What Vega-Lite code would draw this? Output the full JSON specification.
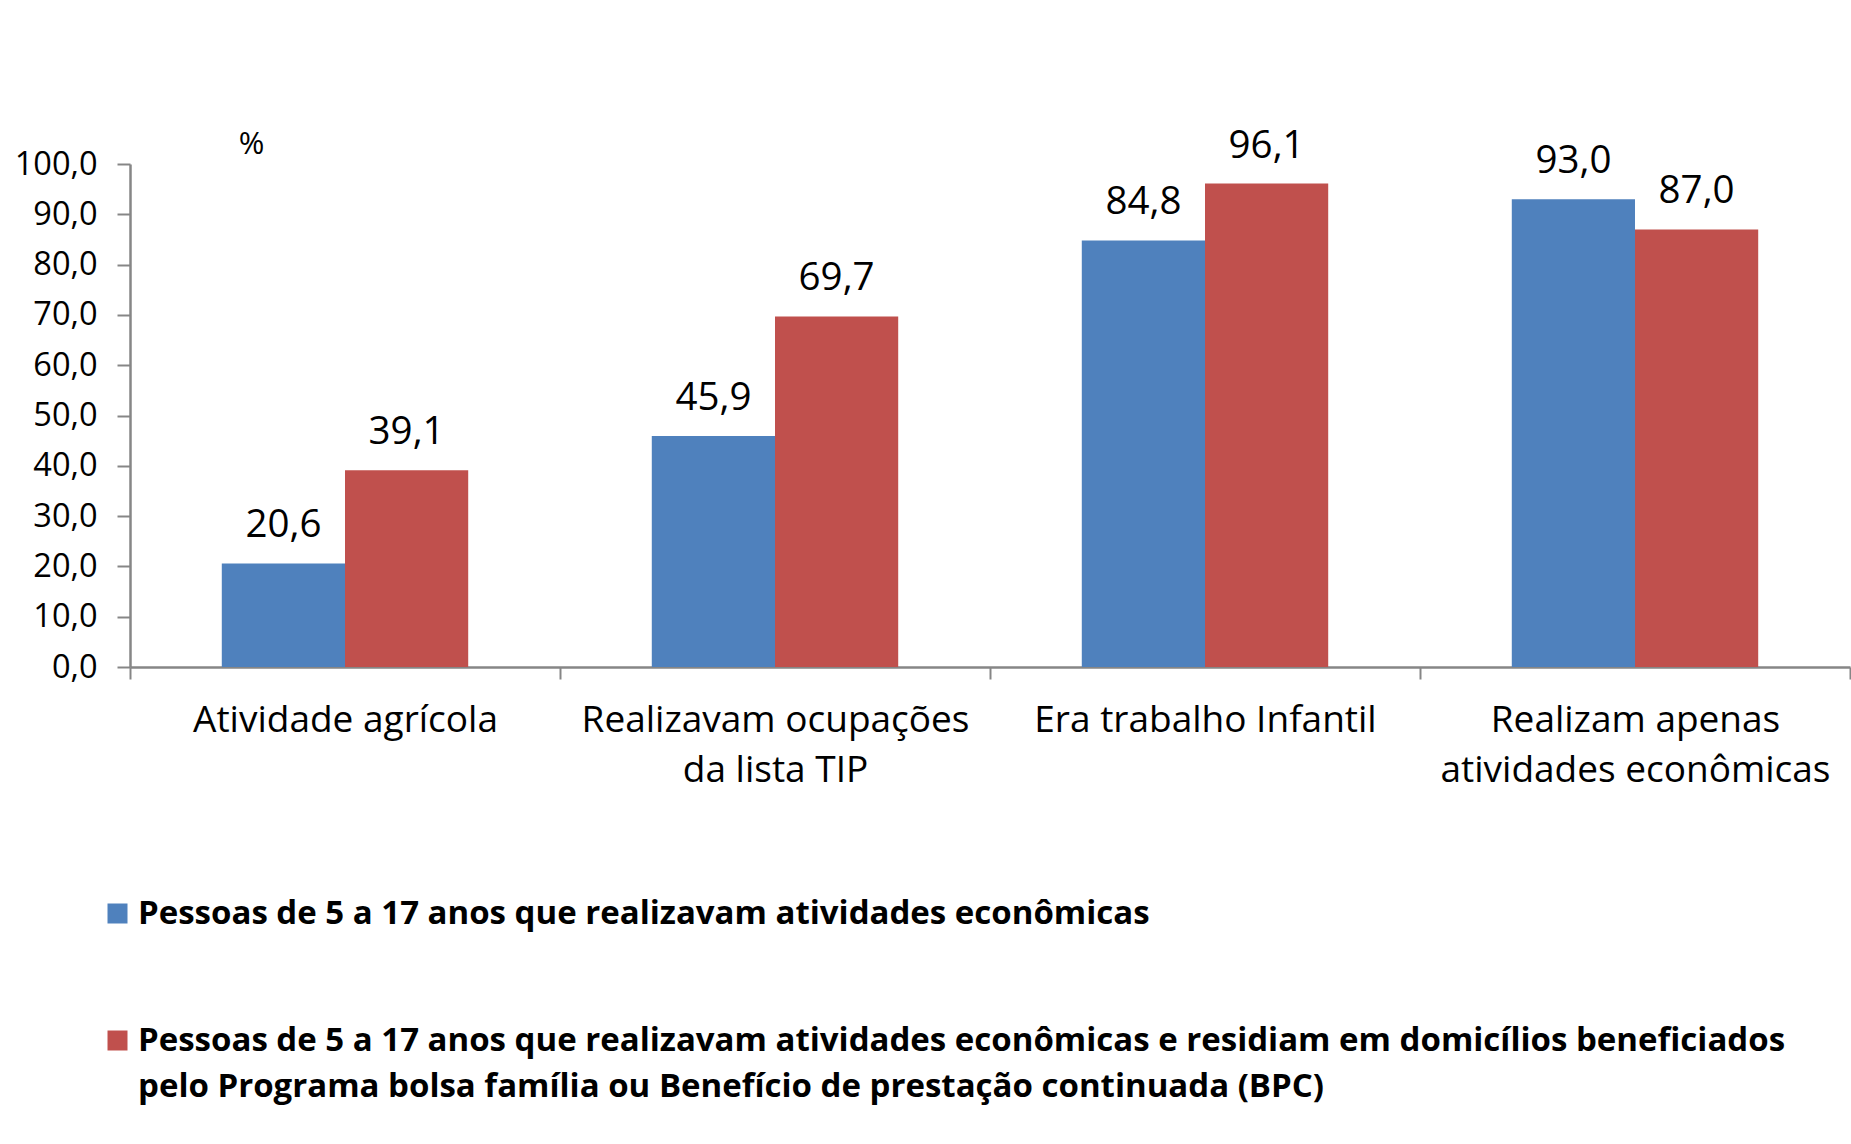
{
  "$schema": "https://vega.github.io/schema/vega-lite/v6.json",
  "autosize": {"type": "none"},
  "padding": {"left": 130, "top": 164, "right": 1, "bottom": 477},
  "width": 1720,
  "height": 503,
  "background": "white",
  "config": {
    "locale": {"number": {"decimal": ",", "thousands": ".", "grouping": [3], "currency": ["R$", ""]}},
    "font": "Open Sans",
    "view": {"stroke": null},
    "style": {"guide-label": {"lineHeight": 46}}
  },
  "data": {
    "values": [
      {"cat": "Atividade agrícola", "serie": "Pessoas de 5 a 17 anos que realizavam atividades econômicas", "value": 20.6},
      {"cat": "Atividade agrícola", "serie": "Pessoas de 5 a 17 anos que realizavam atividades econômicas e residiam em domicílios beneficiados pelo Programa bolsa família ou Benefício de prestação continuada (BPC)", "value": 39.1},
      {"cat": "Realizavam ocupações da lista TIP", "serie": "Pessoas de 5 a 17 anos que realizavam atividades econômicas", "value": 45.9},
      {"cat": "Realizavam ocupações da lista TIP", "serie": "Pessoas de 5 a 17 anos que realizavam atividades econômicas e residiam em domicílios beneficiados pelo Programa bolsa família ou Benefício de prestação continuada (BPC)", "value": 69.7},
      {"cat": "Era trabalho Infantil", "serie": "Pessoas de 5 a 17 anos que realizavam atividades econômicas", "value": 84.8},
      {"cat": "Era trabalho Infantil", "serie": "Pessoas de 5 a 17 anos que realizavam atividades econômicas e residiam em domicílios beneficiados pelo Programa bolsa família ou Benefício de prestação continuada (BPC)", "value": 96.1},
      {"cat": "Realizam apenas atividades econômicas", "serie": "Pessoas de 5 a 17 anos que realizavam atividades econômicas", "value": 93.0},
      {"cat": "Realizam apenas atividades econômicas", "serie": "Pessoas de 5 a 17 anos que realizavam atividades econômicas e residiam em domicílios beneficiados pelo Programa bolsa família ou Benefício de prestação continuada (BPC)", "value": 87.0}
    ]
  },
  "encoding": {
    "x": {
      "field": "cat",
      "type": "nominal",
      "sort": ["Atividade agrícola", "Realizavam ocupações da lista TIP", "Era trabalho Infantil", "Realizam apenas atividades econômicas"],
      "scale": {"paddingInner": 0, "paddingOuter": 0},
      "axis": {
        "title": null,
        "labelAngle": 0,
        "labelFont": "Open Sans",
        "labelFontSize": 37,
        "labelColor": "#000000",
        "labelPadding": 23,
        "labelLineHeight": 50,
        "labelBaseline": "top",
        "labelLimit": 500,
        "tickBand": "extent",
        "tickSize": 12,
        "tickWidth": 2,
        "tickColor": "#868686",
        "domainColor": "#868686",
        "domainWidth": 2.5,
        "labelExpr": "datum.label == 'Realizavam ocupações da lista TIP' ? ['Realizavam ocupações', 'da lista TIP'] : datum.label == 'Realizam apenas atividades econômicas' ? ['Realizam apenas', 'atividades econômicas'] : datum.label"
      }
    },
    "xOffset": {
      "field": "serie",
      "type": "nominal",
      "scale": {"paddingInner": 0, "paddingOuter": 0.745}
    },
    "y": {
      "field": "value",
      "type": "quantitative",
      "scale": {"domain": [0, 100], "nice": false},
      "axis": {
        "title": "%",
        "titleAngle": 0,
        "titleX": 121,
        "titleY": -20,
        "titleFont": "Open Sans",
        "titleFontSize": 31,
        "titleFontWeight": "normal",
        "titleColor": "#000000",
        "titleAlign": "center",
        "titleBaseline": "middle",
        "values": [0, 10, 20, 30, 40, 50, 60, 70, 80, 90, 100],
        "format": ".1f",
        "grid": false,
        "labelFont": "Open Sans",
        "labelFontSize": 32.5,
        "labelColor": "#000000",
        "labelPadding": 20,
        "tickSize": 13,
        "tickWidth": 2,
        "tickColor": "#868686",
        "domainColor": "#868686",
        "domainWidth": 2.5
      }
    }
  },
  "layer": [
    {
      "mark": {"type": "bar"},
      "encoding": {
        "color": {
          "field": "serie",
          "type": "nominal",
          "scale": {
            "domain": ["Pessoas de 5 a 17 anos que realizavam atividades econômicas", "Pessoas de 5 a 17 anos que realizavam atividades econômicas e residiam em domicílios beneficiados pelo Programa bolsa família ou Benefício de prestação continuada (BPC)"],
            "range": ["#4F81BD", "#C0504D"]
          },
          "legend": {
            "title": null,
            "orient": "none",
            "legendX": -29,
            "legendY": 733,
            "direction": "vertical",
            "padding": 0,
            "symbolType": "square",
            "symbolSize": 400,
            "symbolStrokeWidth": 0,
            "symbolOpacity": 1,
            "labelFont": "Open Sans",
            "labelFontSize": 33,
            "labelFontWeight": "bold",
            "labelColor": "#000000",
            "labelOffset": 4,
            "labelLimit": 1800,
            "rowPadding": 93,
            "labelExpr": "indexof(datum.label, ' pelo ') > 0 ? [slice(datum.label, 0, indexof(datum.label, ' pelo ')), slice(datum.label, indexof(datum.label, ' pelo ') + 1)] : datum.label"
          }
        }
      }
    },
    {
      "mark": {"type": "text", "baseline": "bottom", "dy": -18, "font": "Open Sans", "fontSize": 38.5, "color": "#000000"},
      "encoding": {
        "text": {"field": "value", "type": "quantitative", "format": ".1f"}
      }
    }
  ]
}
